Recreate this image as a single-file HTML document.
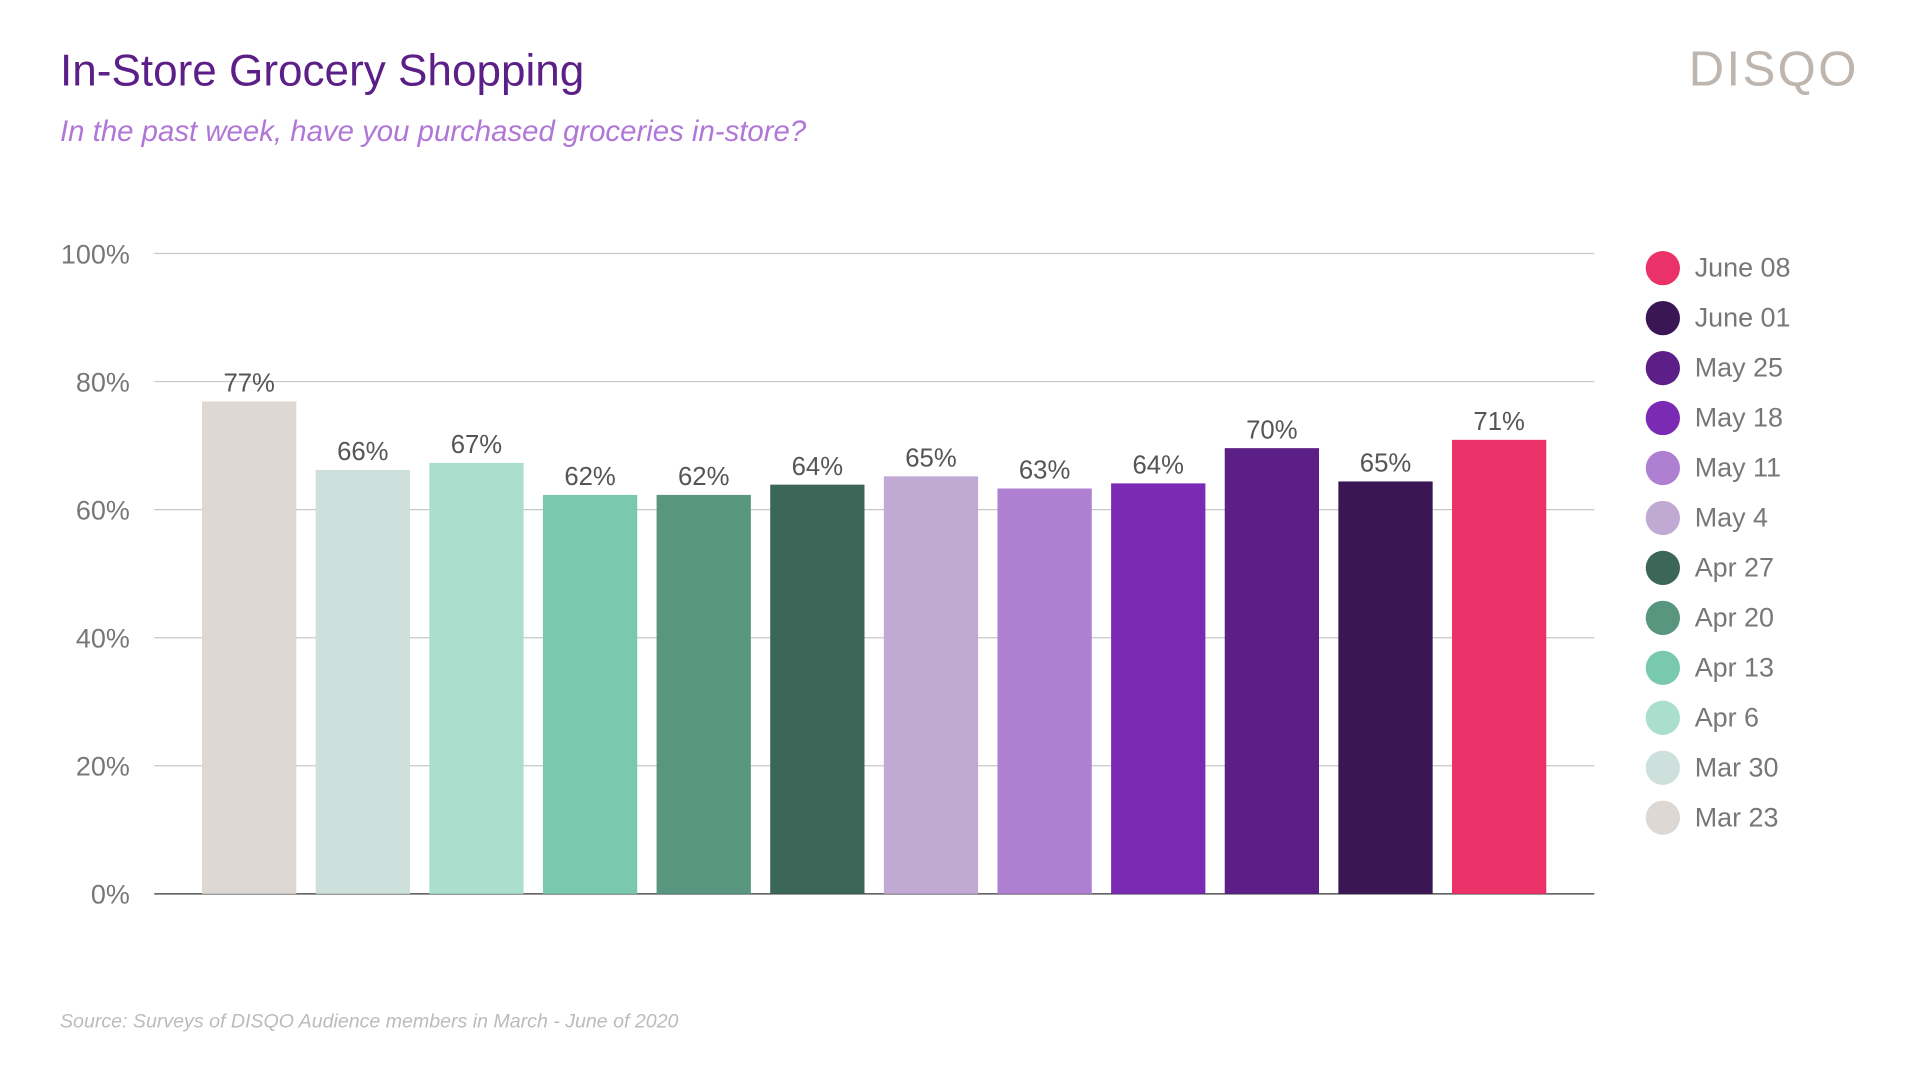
<!DOCTYPE html>
<html><head><meta charset="utf-8"><style>
html,body{margin:0;padding:0;background:#fff;}
svg{display:block;font-family:"Liberation Sans",sans-serif;}
</style></head><body>
<svg id="chart" width="1920" height="1080" viewBox="0 0 1568 882" preserveAspectRatio="none">
<text x="49" y="70" font-size="36" fill="#5c1f87">In-Store Grocery Shopping</text>
<text x="49" y="115" font-size="24" font-style="italic" fill="#b077d6">In the past week, have you purchased groceries in-store?</text>
<text x="1518" y="70" font-size="40" text-anchor="end" fill="#bdb5ae" letter-spacing="2">DISQO</text>
<text x="49" y="839" font-size="16" font-style="italic" fill="#bbbbbb">Source: Surveys of DISQO Audience members in March - June of 2020</text>
<g id="grid"></g><g id="bars"></g><g id="legend"></g>
</svg>
<script>
const categories=["Mar 23","Mar 30","Apr 6","Apr 13","Apr 20","Apr 27","May 4","May 11","May 18","May 25","June 01","June 08"];
const values=[76.9,66.2,67.3,62.3,62.3,63.9,65.2,63.3,64.1,69.6,64.4,70.9];
const valueLabels=["77%","66%","67%","62%","62%","64%","65%","63%","64%","70%","65%","71%"];
const ticks=[0,20,40,60,80,100];
const tickLabels=["0%","20%","40%","60%","80%","100%"];
const colors=["#ddd8d4","#cde0dc","#a9dfcc","#78c9ad","#58967f","#3c6758","#c0aad3","#af7fd2","#7b2ab3","#5c1f87","#3b1655","#ea3268"];
const NS="http://www.w3.org/2000/svg";
const x0=126,x1=1302,y0=730,y1=207;
const yS=v=>y0-(v/100)*(y0-y1);
const step=92.8,bw=77,first=165;
const xS=i=>first+i*step;
function mk(t,a,p){const e=document.createElementNS(NS,t);for(const k in a)e.setAttribute(k,a[k]);p.appendChild(e);return e;}
const grid=document.getElementById('grid');
ticks.forEach((t,i)=>{
 const l=mk('line',{x1:x0,x2:x1,y1:yS(t),y2:yS(t),stroke:t===0?'#333':'#c8c8c8','stroke-width':1},grid);
 
 
 const tx=mk('text',{x:106,y:yS(t)+8,'text-anchor':'end','font-size':22,fill:'#777'},grid);
 tx.textContent=tickLabels[i];
 
 
});
const bars=document.getElementById('bars');
values.forEach((v,i)=>{
 const r=mk('rect',{x:xS(i),y:yS(v),width:bw,height:y0-yS(v),fill:colors[i]},bars);
 
 
 const t=mk('text',{x:xS(i)+bw/2,y:yS(v)-8,'text-anchor':'middle','font-size':21,fill:'#555'},bars);
 t.textContent=valueLabels[i];
 
 
});
const lg=document.getElementById('legend');
for(let j=0;j<categories.length;j++){
 const i=categories.length-1-j;
 const cy=219+j*40.8;
 const c=mk('circle',{cx:1358,cy:cy,r:14,fill:colors[i]},lg);
 
 
 const t=mk('text',{x:1384,y:cy+7,'font-size':22,fill:'#777'},lg);
 t.textContent=categories[i];
 
 
}
</script>
</body></html>
